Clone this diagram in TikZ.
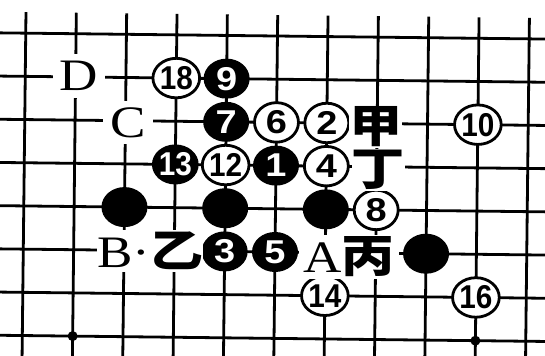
\documentclass[tikz,border=0pt]{standalone}
\usepackage{fontspec}
\usepackage{graphicx}
\usetikzlibrary{shapes.geometric}
\setmainfont{Liberation Serif}
\newfontfamily\numfont{Liberation Sans}
\newfontfamily\cjk{Noto Sans CJK SC}
\newcommand\onedig[1]{\scalebox{1.15}[1]{#1}}
\newcommand\twodig[1]{\scalebox{0.9}[1]{#1}}
\newcommand\widetxt[1]{\scalebox{1.18}[1]{#1}}
\newcommand\cjkchar[1]{{\cjk\bfseries\fontsize{45}{45}\selectfont #1}}
\begin{document}
\begin{tikzpicture}[x=50.35pt,y=-43.2pt,
  gridline/.style={line width=2.8pt},
  bstone/.style={ellipse,fill=black,minimum width=46pt,minimum height=40pt,inner sep=0pt,text=white,font=\numfont\bfseries\fontsize{33}{33}\selectfont},
  wstone/.style={ellipse,draw=black,line width=2.8pt,fill=white,minimum width=44pt,minimum height=39.5pt,inner sep=0pt,font=\numfont\bfseries\fontsize{33}{33}\selectfont},
  lbl/.style={fill=white,inner sep=0pt,font=\fontsize{45}{45}\selectfont},
  starpt/.style={circle,fill=black,minimum size=10pt,inner sep=0pt}]
\useasboundingbox (-0.4767,-0.8333) rectangle (10.3476,7.4074);
\clip (-0.4767,-0.8333) rectangle (10.3476,7.4074);
\begin{scope}[rotate around={-0.65:(5,3.5)}]
  % grid
  \foreach \i in {0,...,10} \draw[gridline] (\i,-0.486) -- (\i,7.7);
  \foreach \j in {0,...,7} \draw[gridline] (-0.7,\j) -- (10.6,\j);
  % star points
  \node[starpt] (s1) at (1,7) {};
  \node[starpt] (s9) at (9,7) {};
  % stones
  \node[wstone] (w18) at (3,1) {\twodig{18}};
  \node[bstone] (b9)  at (4,1) {\onedig{9}};
  \node[bstone] (b7)  at (4,2) {\onedig{7}};
  \node[wstone] (w6)  at (5,2) {\onedig{6}};
  \node[wstone] (w2)  at (6,2) {\onedig{2}};
  \node[wstone] (w10) at (9,2) {\twodig{10}};
  \node[bstone] (b13) at (3,3) {\twodig{13}};
  \node[wstone] (w12) at (4,3) {\twodig{12}};
  \node[bstone] (b1)  at (5,3) {\onedig{1}};
  \node[wstone] (w4)  at (6,3) {\onedig{4}};
  \node[bstone] (bc2) at (2,4) {};
  \node[bstone] (bc4) at (4,4) {};
  \node[bstone] (bc6) at (6,4) {};
  \node[wstone] (w8)  at (7,4) {\onedig{8}};
  \node[bstone] (b3)  at (4,5) {\onedig{3}};
  \node[bstone] (b5)  at (5,5) {\onedig{5}};
  \node[bstone] (bc8) at (8,5) {};
  \node[wstone] (w14) at (6,6) {\twodig{14}};
  \node[wstone] (w16) at (9,6) {\twodig{16}};
  % labels
  \node[lbl,minimum width=52pt,minimum height=44pt] (D) at (1.07,0.97) {\widetxt{D}};
  \node[lbl,minimum width=50pt,minimum height=43pt] (C) at (2.05,2.04) {\widetxt{C}};
  \node[lbl,minimum width=96pt,minimum height=42pt] (BY) at (2.52,5.0) {\widetxt{B·\cjkchar{乙}}};
  \node[lbl,minimum width=100pt,minimum height=44pt] (AB) at (6.47,5.09) {\widetxt{A\cjkchar{丙}}};
  \node[lbl,minimum width=46pt,minimum height=42pt] (jia) at (6.97,2.08) {\widetxt{\cjkchar{甲}}};
  \node[lbl,minimum width=48pt,minimum height=42pt] (ding) at (7.03,3.07) {\widetxt{\cjkchar{丁}}};
\end{scope}
\end{tikzpicture}
\end{document}
